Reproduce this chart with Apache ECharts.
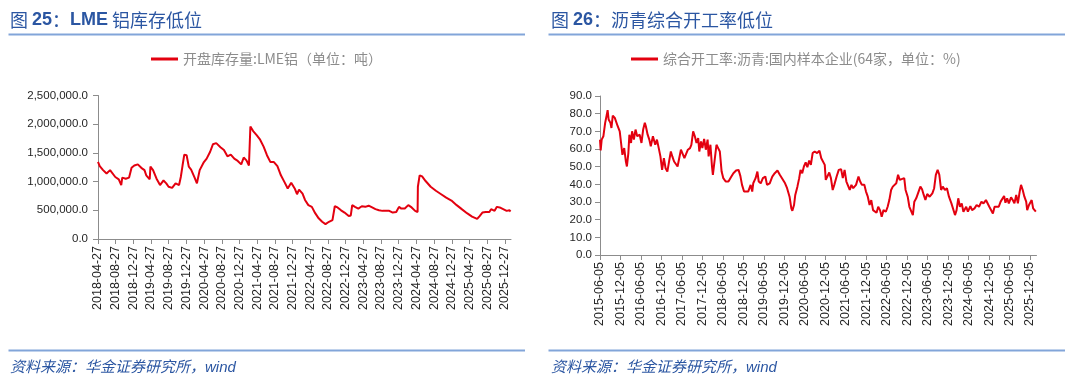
<!DOCTYPE html>
<html><head><meta charset="utf-8">
<script src="https://cdn.jsdelivr.net/npm/echarts@6/dist/echarts.min.js"></script>
<style>html,body{margin:0;padding:0;background:#fff}#c{width:1080px;height:382px}</style>
</head><body><div id="c"></div>
<script>
// ---------- Chart 25: LME aluminium stocks (tonnes) ----------
const lmeDates = ['2018-04-27','2018-05-09','2018-06-01','2018-06-25','2018-07-07','2018-07-19','2018-07-31','2018-08-24','2018-09-17','2018-10-04','2018-10-11','2018-11-04','2018-11-27','2018-12-09','2018-12-14','2019-01-02','2019-01-26','2019-02-19','2019-03-13','2019-03-25','2019-04-18','2019-04-23','2019-05-11','2019-06-04','2019-06-28','2019-07-22','2019-08-10','2019-08-26','2019-09-19','2019-10-13','2019-11-06','2019-11-18','2019-11-30','2019-12-12','2019-12-28','2020-01-12','2020-01-28','2020-02-21','2020-03-08','2020-03-27','2020-04-25','2020-05-14','2020-06-07','2020-06-26','2020-07-19','2020-08-17','2020-09-10','2020-10-04','2020-10-27','2020-11-20','2020-12-14','2021-01-07','2021-01-24','2021-02-12','2021-03-01','2021-03-11','2021-03-30','2021-04-23','2021-05-17','2021-06-10','2021-07-03','2021-07-27','2021-08-20','2021-09-13','2021-10-07','2021-10-30','2021-11-23','2021-12-17','2022-01-10','2022-01-26','2022-02-09','2022-03-05','2022-03-22','2022-04-14','2022-05-08','2022-05-31','2022-06-24','2022-07-18','2022-08-10','2022-09-03','2022-09-27','2022-10-13','2022-11-01','2022-11-25','2022-12-19','2023-01-17','2023-01-31','2023-02-10','2023-03-01','2023-03-24','2023-04-17','2023-05-11','2023-06-03','2023-06-27','2023-07-20','2023-08-13','2023-09-06','2023-09-30','2023-10-23','2023-11-16','2023-12-10','2023-12-29','2024-01-14','2024-02-07','2024-03-02','2024-03-25','2024-04-18','2024-05-05','2024-05-07','2024-05-19','2024-06-05','2024-06-29','2024-08-03','2024-09-08','2024-10-14','2024-11-18','2024-12-24','2025-01-29','2025-03-05','2025-04-10','2025-05-15','2025-06-19','2025-07-06','2025-07-25','2025-08-17','2025-09-11','2025-09-23','2025-10-17','2025-10-28','2025-11-02','2025-11-21','2025-12-15','2026-01-08','2026-01-27','2026-02-04'];
const lmeValues = [1343000,1270000,1200000,1140000,1110000,1200000,1190000,1080000,1040000,940000,1070000,1050000,1070000,1050000,1240000,1280000,1300000,1240000,1200000,1110000,1040000,1260000,1200000,1050000,940000,1020000,970000,910000,890000,970000,940000,1080000,1280000,1470000,1460000,1260000,1210000,1070000,970000,1200000,1340000,1400000,1520000,1650000,1670000,1600000,1550000,1440000,1470000,1400000,1360000,1300000,1420000,1370000,1280000,1960000,1880000,1810000,1730000,1610000,1460000,1340000,1340000,1270000,1110000,1000000,880000,980000,880000,780000,860000,790000,680000,590000,560000,450000,360000,300000,260000,300000,330000,570000,550000,500000,460000,400000,410000,590000,560000,530000,570000,560000,580000,550000,520000,500000,490000,490000,490000,460000,470000,560000,530000,530000,590000,550000,490000,470000,910000,1110000,1090000,1010000,910000,840000,780000,720000,670000,590000,520000,450000,390000,350000,400000,460000,470000,470000,520000,490000,460000,560000,550000,520000,490000,500000,480000];
const lmeTickLabels = ['2018-04-27','2018-08-27','2018-12-27','2019-04-27','2019-08-27','2019-12-27','2020-04-27','2020-08-27','2020-12-27','2021-04-27','2021-08-27','2021-12-27','2022-04-27','2022-08-27','2022-12-27','2023-04-27','2023-08-27','2023-12-27','2024-04-27','2024-08-27','2024-12-27','2025-04-27','2025-08-27','2025-12-27'];

// ---------- Chart 26: asphalt operating rate (%) ----------
const asphaltDates = ['2015-06-05','2015-06-11','2015-06-20','2015-07-05','2015-07-21','2015-08-05','2015-08-12','2015-08-21','2015-09-06','2015-09-15','2015-09-27','2015-10-15','2015-10-28','2015-11-10','2015-11-28','2015-12-10','2015-12-22','2016-01-07','2016-01-22','2016-01-31','2016-02-13','2016-02-22','2016-03-08','2016-03-17','2016-04-02','2016-04-17','2016-05-02','2016-05-24','2016-06-09','2016-06-24','2016-07-09','2016-07-18','2016-08-03','2016-08-18','2016-08-31','2016-09-19','2016-10-10','2016-10-25','2016-11-10','2016-11-25','2016-12-10','2016-12-26','2017-01-10','2017-01-26','2017-02-10','2017-02-26','2017-03-11','2017-03-27','2017-04-11','2017-04-27','2017-05-12','2017-05-27','2017-06-12','2017-06-27','2017-07-12','2017-07-28','2017-08-16','2017-08-28','2017-09-13','2017-09-28','2017-10-13','2017-10-28','2017-11-07','2017-11-22','2017-12-04','2017-12-20','2018-01-04','2018-01-20','2018-01-29','2018-02-14','2018-02-28','2018-03-08','2018-03-24','2018-04-09','2018-04-24','2018-05-09','2018-05-25','2018-06-09','2018-06-30','2018-07-25','2018-08-16','2018-09-07','2018-10-01','2018-10-23','2018-11-08','2018-11-23','2018-12-11','2018-12-27','2019-01-17','2019-02-08','2019-02-22','2019-03-03','2019-03-24','2019-04-09','2019-04-21','2019-05-09','2019-05-28','2019-06-19','2019-07-04','2019-07-28','2019-08-20','2019-09-11','2019-10-05','2019-10-26','2019-11-20','2019-12-12','2019-12-30','2020-01-21','2020-02-06','2020-02-15','2020-03-01','2020-03-12','2020-03-31','2020-04-16','2020-04-28','2020-05-13','2020-05-28','2020-06-13','2020-06-28','2020-07-14','2020-07-29','2020-08-14','2020-09-01','2020-09-23','2020-10-14','2020-10-30','2020-11-15','2020-11-30','2020-12-09','2020-12-24','2021-01-09','2021-01-24','2021-02-09','2021-02-23','2021-03-16','2021-04-04','2021-04-25','2021-05-10','2021-05-26','2021-06-11','2021-06-26','2021-07-11','2021-07-26','2021-08-11','2021-09-05','2021-09-27','2021-10-12','2021-10-27','2021-11-18','2021-12-03','2021-12-19','2022-01-04','2022-01-19','2022-02-04','2022-02-18','2022-03-07','2022-03-22','2022-04-07','2022-04-22','2022-05-08','2022-05-29','2022-06-14','2022-06-29','2022-07-15','2022-07-30','2022-08-15','2022-08-30','2022-09-15','2022-09-30','2022-10-15','2022-11-09','2022-11-21','2022-12-10','2022-12-25','2023-01-10','2023-01-25','2023-02-07','2023-02-24','2023-03-11','2023-04-02','2023-04-17','2023-05-02','2023-05-17','2023-06-02','2023-06-24','2023-07-18','2023-08-03','2023-08-18','2023-09-03','2023-09-18','2023-10-04','2023-10-19','2023-11-07','2023-11-25','2023-12-13','2024-01-04','2024-01-20','2024-02-05','2024-02-19','2024-03-05','2024-03-20','2024-04-05','2024-04-20','2024-05-15','2024-05-30','2024-06-21','2024-07-06','2024-07-28','2024-08-16','2024-09-06','2024-09-28','2024-10-16','2024-11-07','2024-11-22','2024-12-07','2024-12-23','2025-01-08','2025-01-23','2025-02-08','2025-03-01','2025-03-18','2025-03-30','2025-04-18','2025-04-30','2025-05-15','2025-05-30','2025-06-19','2025-07-04','2025-07-19','2025-08-04','2025-08-19','2025-09-04','2025-09-16','2025-10-01','2025-10-16','2025-11-01','2025-11-10','2025-11-26','2025-12-11','2025-12-20','2026-01-02','2026-01-17','2026-01-26'];
const asphaltValues = [65.3,59.2,65.3,67.2,74.8,79.5,82.0,76.7,74.8,71.9,78.9,77.6,78.6,72.9,70.0,63.4,56.7,60.5,52.9,50.1,57.7,68.1,63.4,70.0,65.3,71.0,67.2,68.1,63.4,71.0,74.8,72.9,68.1,65.3,61.5,67.2,62.4,65.3,60.5,55.8,48.2,54.8,49.1,47.2,52.9,58.6,55.8,52.9,53.9,50.1,51.0,59.6,60.5,54.8,53.9,59.6,60.5,62.4,70.0,67.2,63.4,66.2,58.6,64.3,60.5,65.7,59.6,65.3,55.8,62.4,50.1,45.4,53.9,62.4,60.5,58.6,47.2,43.5,41.6,41.6,44.0,46.3,47.8,48.2,44.8,39.7,35.9,36.8,35.9,39.7,35.9,40.6,43.5,47.2,41.6,40.6,43.5,44.4,39.7,40.6,44.4,46.3,47.8,45.4,42.9,40.6,37.8,33.0,26.4,25.0,28.3,34.0,38.7,43.5,48.2,46.3,50.1,52.4,49.7,53.5,51.0,57.7,58.6,57.7,59.0,54.8,55.8,51.0,42.5,41.6,46.7,43.5,36.8,39.7,44.4,48.2,48.6,43.5,48.2,41.6,40.6,36.8,39.7,37.8,39.7,44.4,41.6,39.7,39.7,35.9,33.0,28.3,31.1,25.4,26.4,23.9,27.3,25.4,21.6,25.4,24.5,27.3,31.1,36.8,38.7,37.8,40.6,45.4,42.5,43.5,43.5,36.8,33.0,27.3,26.4,22.6,30.2,32.1,31.1,38.7,37.2,34.0,31.1,34.5,33.0,34.9,37.8,45.4,48.2,45.4,36.8,38.7,36.8,37.8,33.0,29.2,28.3,22.6,25.4,32.1,27.3,29.2,24.5,27.3,24.5,27.7,25.4,26.4,28.3,27.3,30.2,29.2,31.1,32.1,27.3,26.4,23.5,27.3,28.3,27.3,30.2,29.2,33.4,29.6,32.1,29.2,32.6,31.1,29.2,34.0,29.2,35.9,39.7,36.8,33.0,30.2,25.4,28.3,27.3,31.1,26.4,27.3,24.5];
const asphaltTickLabels = ['2015-06-05','2015-12-05','2016-06-05','2016-12-05','2017-06-05','2017-12-05','2018-06-05','2018-12-05','2019-06-05','2019-12-05','2020-06-05','2020-12-05','2021-06-05','2021-12-05','2022-06-05','2022-12-05','2023-06-05','2023-12-05','2024-06-05','2024-12-05','2025-06-05','2025-12-05'];

const lmeName = '开盘库存量:LME铝（单位：吨）';
const asphaltName = '综合开工率:沥青:国内样本企业(64家，单位：%)';

function ts(s){const p=s.split('-');return Date.UTC(+p[0],+p[1]-1,+p[2]);}
function fmtDate(v){const d=new Date(Math.round(v));const p=n=>String(n).padStart(2,'0');return d.getUTCFullYear()+'-'+p(d.getUTCMonth()+1)+'-'+p(d.getUTCDate());}

const FONT = "'Liberation Sans','Noto Sans CJK SC',sans-serif";
const CJK = "'Noto Sans CJK SC','Liberation Sans',sans-serif";
const AXIS = '#8c8c8c';
const RED = '#E3000F';
const BLUE_TEXT = '#2B56A2';
const BLUE_LINE = '#82A5D9';

const chart = echarts.init(document.getElementById('c'), null, {renderer:'canvas'});

function xAxisCfg(idx, minD, maxD, labels){
  const vals = labels.map(ts);
  return {
    type:'value', gridIndex:idx, min:ts(minD), max:ts(maxD), scale:true,
    axisLine:{show:true, onZero:false, lineStyle:{color:AXIS, width:1}},
    axisTick:{show:true, length:5, customValues:vals, lineStyle:{color:AXIS}},
    axisLabel:{customValues:vals, rotate:90, formatter:fmtDate, fontSize:12.5, color:'#262626', fontFamily:FONT, margin:7},
    splitLine:{show:false}, minorTick:{show:false}
  };
}

const titleRich = {
  a:{fontSize:18, fontWeight:'normal', color:BLUE_TEXT, fontFamily:CJK},
  b:{fontSize:18, fontWeight:'bold', color:BLUE_TEXT, fontFamily:FONT}
};

const option = {
  animation:false,
  backgroundColor:'#fff',
  title:[
    {text:'{a|图 }{b|25}{a|：}{b|LME}{a| 铝库存低位}', left:10, top:11, padding:0,
     textStyle:{fontWeight:'normal', rich:titleRich}},
    {text:'{a|图 }{b|26}{a|：沥青综合开工率低位}', left:551, top:11, padding:0,
     textStyle:{fontWeight:'normal', rich:titleRich}}
  ],
  legend:[
    {data:[lmeName], left:151, top:52, padding:0, itemWidth:27, itemHeight:3, icon:'rect', itemGap:5,
     textStyle:{fontSize:14, color:'#8c8c8c', fontFamily:CJK}},
    {data:[asphaltName], left:631, top:52, padding:0, itemWidth:27, itemHeight:3, icon:'rect', itemGap:5,
     textStyle:{fontSize:14, color:'#8c8c8c', fontFamily:CJK}}
  ],
  grid:[
    {left:98, top:95.5, width:413, height:143.5},
    {left:600, top:96, width:436.5, height:159}
  ],
  xAxis:[
    xAxisCfg(0,'2018-04-27','2026-02-07',lmeTickLabels),
    xAxisCfg(1,'2015-06-05','2026-02-01',asphaltTickLabels)
  ],
  yAxis:[
    {type:'value', gridIndex:0, min:0, max:2500000, interval:500000,
     axisLine:{show:true, lineStyle:{color:AXIS}}, axisTick:{show:true, length:5, lineStyle:{color:AXIS}},
     splitLine:{show:false},
     axisLabel:{fontSize:11.5, color:'#262626', fontFamily:FONT, margin:10,
       formatter:v=>v.toLocaleString('en-US',{minimumFractionDigits:1,maximumFractionDigits:1})}},
    {type:'value', gridIndex:1, min:0, max:90, interval:10,
     axisLine:{show:true, lineStyle:{color:AXIS}}, axisTick:{show:true, length:5, lineStyle:{color:AXIS}},
     splitLine:{show:false},
     axisLabel:{fontSize:11.5, color:'#262626', fontFamily:FONT, margin:8, formatter:v=>v.toFixed(1)}}
  ],
  series:[
    {name:lmeName, type:'line', xAxisIndex:0, yAxisIndex:0, symbol:'none', color:RED,
     lineStyle:{color:RED, width:2}, data:lmeDates.map((d,i)=>[ts(d), lmeValues[i]])},
    {name:asphaltName, type:'line', xAxisIndex:1, yAxisIndex:1, symbol:'none', color:RED,
     lineStyle:{color:RED, width:2}, data:asphaltDates.map((d,i)=>[ts(d), asphaltValues[i]])}
  ],
  graphic:[
    {type:'line', shape:{x1:8.5,y1:34.5,x2:525,y2:34.5}, style:{stroke:BLUE_LINE, lineWidth:2}},
    {type:'line', shape:{x1:548.5,y1:34.5,x2:1065,y2:34.5}, style:{stroke:BLUE_LINE, lineWidth:2}},
    {type:'line', shape:{x1:8.5,y1:350.5,x2:525,y2:350.5}, style:{stroke:BLUE_LINE, lineWidth:2}},
    {type:'line', shape:{x1:548.5,y1:350.5,x2:1065,y2:350.5}, style:{stroke:BLUE_LINE, lineWidth:2}},
    {type:'text', x:10, y:368, style:{text:'资料来源：华金证券研究所，wind', fontSize:15, fontStyle:'italic', fontFamily:FONT, fill:BLUE_TEXT, verticalAlign:'middle'}},
    {type:'text', x:551, y:368, style:{text:'资料来源：华金证券研究所，wind', fontSize:15, fontStyle:'italic', fontFamily:FONT, fill:BLUE_TEXT, verticalAlign:'middle'}}
  ]
};
chart.setOption(option);
</script>
</body></html>
